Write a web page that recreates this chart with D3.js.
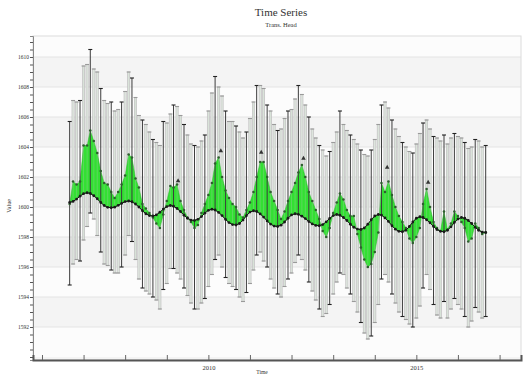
<!DOCTYPE html>
<html>
<head>
<meta charset="utf-8">
<script src="https://cdn.jsdelivr.net/npm/d3@7"></script>
<style>
  body { margin: 0; background: #fff; }
  svg { display: block; }
  text { font-family: "Liberation Serif", "DejaVu Serif", serif; fill: #333; }
</style>
</head>
<body>
<div id="chart"></div>
<script>
var width = 526, height = 376;

// monthly values, Sep 2006 .. Sep 2016
var fitted = [
  1600.3, 1600.37, 1600.53, 1600.72, 1600.89, 1600.95, 1600.9, 1600.75, 1600.55, 1600.3, 1600.1, 1599.98,
  1599.95, 1599.99, 1600.11, 1600.24, 1600.36, 1600.4, 1600.35, 1600.2, 1600.0, 1599.75, 1599.55, 1599.43,
  1599.4, 1599.47, 1599.65, 1599.86, 1600.03, 1600.1, 1600.05, 1599.9, 1599.7, 1599.45, 1599.25, 1599.13,
  1599.1, 1599.18, 1599.36, 1599.59, 1599.78, 1599.85, 1599.8, 1599.64, 1599.43, 1599.17, 1598.96, 1598.83,
  1598.8, 1598.9, 1599.13, 1599.42, 1599.66, 1599.75, 1599.7, 1599.54, 1599.33, 1599.07, 1598.86, 1598.73,
  1598.7, 1598.79, 1599.0, 1599.25, 1599.47, 1599.55, 1599.51, 1599.39, 1599.23, 1599.03, 1598.87, 1598.77,
  1598.75, 1598.83, 1599.01, 1599.24, 1599.43, 1599.5, 1599.45, 1599.3, 1599.1, 1598.85, 1598.65, 1598.53,
  1598.5, 1598.6, 1598.85, 1599.15, 1599.4, 1599.5, 1599.46, 1599.27, 1599.04, 1598.75, 1598.52, 1598.38,
  1598.35, 1598.45, 1598.7, 1599.0, 1599.25, 1599.35, 1599.3, 1599.15, 1598.95, 1598.7, 1598.5, 1598.38,
  1598.35, 1598.45, 1598.68, 1598.97, 1599.2, 1599.3, 1599.25, 1599.1, 1598.9, 1598.65, 1598.45, 1598.33,
  1598.3
];

var observed = [
  1600.2, 1601.7, 1601.5, 1601.7, 1604.1, 1604.1, 1605.1, 1604.4, 1603.6, 1602.4, 1601.6, 1601.5,
  1601.0, 1600.6, 1601.0, 1601.5, 1602.1, 1603.5, 1603.3, 1601.9, 1601.3, 1600.2, 1599.9, 1599.6,
  1599.3, 1598.9, 1598.6, 1599.5, 1600.4, 1601.4, 1601.3, 1601.5, 1600.4, 1599.8, 1599.3, 1599.0,
  1598.6, 1598.8, 1599.6, 1600.2, 1600.8, 1601.6, 1602.9, 1603.3, 1602.0, 1601.1, 1600.6, 1600.2,
  1600.0, 1599.5, 1599.3, 1599.8, 1600.3, 1601.0, 1602.0, 1603.0, 1603.0, 1602.0, 1601.0, 1600.4,
  1599.8, 1599.2, 1599.7, 1600.4, 1601.0, 1601.6, 1602.3, 1602.8, 1602.0, 1601.0, 1600.4, 1599.8,
  1599.2, 1598.4, 1598.0, 1598.6, 1599.6, 1600.3, 1600.9, 1600.5, 1599.8, 1599.4, 1599.4, 1598.2,
  1597.3, 1596.5, 1596.0, 1596.2, 1597.0, 1598.3, 1601.6, 1601.0, 1601.7, 1600.8, 1600.0, 1599.4,
  1599.0, 1598.6, 1597.9, 1597.6, 1598.0, 1598.6, 1600.2, 1601.2, 1600.0, 1599.0, 1598.6, 1598.4,
  1599.7, 1598.5, 1598.9, 1599.7, 1599.4, 1599.0, 1598.6, 1597.7, 1597.9, 1598.9, 1598.6, 1598.2,
  1598.3
];

var high = [
  1605.7, 1607.1, 1607.0, 1607.1, 1609.4, 1609.5, 1610.5, 1609.2, 1609.0, 1607.9, 1607.1, 1606.9,
  1607.0, 1606.4, 1606.5, 1607.0, 1607.7, 1609.0, 1608.6, 1607.3, 1606.1, 1605.8, 1605.5, 1605.0,
  1604.5, 1604.3, 1604.1, 1605.7, 1605.6, 1606.2, 1606.8, 1606.7, 1606.1, 1605.5, 1604.8, 1604.2,
  1604.1, 1604.0, 1604.4, 1604.8, 1606.4, 1607.6, 1608.7, 1608.0, 1607.4, 1606.4, 1605.7, 1605.7,
  1605.4, 1605.0, 1604.6, 1605.0, 1605.9, 1607.0, 1608.1, 1608.1, 1607.9, 1606.8, 1606.4, 1605.5,
  1605.1, 1605.2, 1605.9, 1606.4, 1606.5, 1607.2, 1608.1, 1607.5, 1606.8, 1606.0, 1605.2, 1604.6,
  1604.1, 1603.8, 1603.4, 1603.7, 1604.3, 1605.0, 1606.4, 1605.5, 1605.1, 1604.8, 1604.5, 1604.2,
  1603.8, 1603.5, 1603.4, 1603.8, 1604.5, 1605.5, 1606.8, 1607.0, 1606.6, 1605.8, 1605.2, 1604.7,
  1604.3, 1604.0, 1603.7, 1603.6, 1604.2, 1604.9, 1605.6, 1605.8, 1605.2, 1604.7, 1604.6, 1604.4,
  1604.8, 1604.2, 1604.6, 1604.9, 1604.7, 1604.6, 1604.3, 1603.9, 1604.0, 1604.5, 1604.4, 1604.0,
  1604.1
];

var low = [
  1594.8, 1596.2, 1596.5, 1596.4, 1597.8, 1598.7, 1599.6, 1599.2, 1598.1, 1597.0, 1596.2, 1596.1,
  1595.8, 1595.6, 1595.6, 1596.0, 1596.8, 1598.1, 1597.7, 1596.5, 1595.2, 1594.6, 1594.4, 1594.2,
  1594.0, 1593.8, 1593.2, 1594.5, 1594.9, 1595.9, 1595.9, 1595.6, 1595.2, 1594.6, 1594.1, 1593.6,
  1593.2, 1593.2, 1593.6, 1593.9, 1594.7, 1595.5, 1596.5, 1596.8, 1596.0, 1595.3, 1594.9, 1594.7,
  1594.5, 1594.0, 1593.7, 1594.3, 1594.9, 1595.8, 1596.8, 1597.0, 1596.4, 1596.0, 1595.2, 1594.6,
  1594.2, 1594.0, 1594.7, 1595.2, 1595.6, 1596.3, 1596.8, 1596.5, 1595.8, 1595.0, 1594.4, 1593.8,
  1593.2, 1592.7, 1592.9, 1593.5, 1594.2, 1595.0, 1595.6, 1595.5, 1594.6, 1594.2, 1593.7, 1593.0,
  1592.3, 1591.6, 1591.2, 1591.4, 1592.3, 1593.5, 1595.2, 1595.5, 1595.0, 1594.2, 1593.6, 1593.0,
  1592.7, 1592.5, 1592.2, 1592.0, 1592.6, 1593.4, 1594.6, 1595.5, 1594.5, 1593.5, 1592.8, 1592.6,
  1593.7, 1592.6, 1593.2, 1593.9, 1593.5, 1593.2, 1592.7, 1592.0, 1592.4, 1593.3, 1593.0, 1592.6,
  1592.7
];

// yearly spring peaks marked with triangles
var peakDates = ["2009-04-10", "2010-04-20", "2011-04-10", "2012-04-15", "2014-04-20", "2015-04-15"];
var peakValues = [1601.6, 1603.6, 1603.5, 1603.1, 1602.5, 1601.5];

var yLabelTicks = [1592, 1594, 1596, 1598, 1600, 1602, 1604, 1606, 1608, 1610];

var months = d3.timeMonth.range(new Date(2006, 8, 1), new Date(2016, 9, 1));
var parseDay = d3.timeParse("%Y-%m-%d");

var data = months.map(function (m, i) {
  return { date: m, fit: fitted[i], obs: observed[i], hi: high[i], lo: low[i], i: i };
});

var plotLeft = 33, plotRight = 521, plotTop = 36, plotBottom = 360;

var x = d3.scaleTime()
  .domain([new Date(2005, 9, 14), new Date(2017, 6, 8)])
  .range([plotLeft, plotRight]);

var y = d3.scaleLinear()
  .domain([1589.8, 1611.4])
  .range([plotBottom, plotTop]);

var svg = d3.select("#chart").append("svg")
  .attr("width", width)
  .attr("height", height);

// titles
svg.append("text").attr("x", 281).attr("y", 16).attr("text-anchor", "middle")
  .style("font-size", "11px").text("Time Series");
svg.append("text").attr("x", 281).attr("y", 27).attr("text-anchor", "middle")
  .style("font-size", "6.5px").text("Trans. Head");

// plot background: alternating bands between major ticks
var bands = d3.range(1588, 1612, 2);
svg.append("g").selectAll("rect")
  .data(bands)
  .enter().append("rect")
    .attr("x", plotLeft)
    .attr("width", plotRight - plotLeft)
    .attr("y", function (d) { return Math.max(plotTop, y(d + 2)); })
    .attr("height", function (d) { return Math.max(0, Math.min(plotBottom, y(d)) - Math.max(plotTop, y(d + 2))); })
    .attr("fill", function (d) { return (d / 2) % 2 === 0 ? "#f4f4f4" : "#fcfcfc"; });

svg.append("g").selectAll("line")
  .data(yLabelTicks)
  .enter().append("line")
    .attr("x1", plotLeft).attr("x2", plotRight)
    .attr("y1", function (d) { return y(d); })
    .attr("y2", function (d) { return y(d); })
    .attr("stroke", "#e4e4e4").attr("stroke-width", 1);

svg.append("rect")
  .attr("x", plotLeft).attr("y", plotTop)
  .attr("width", plotRight - plotLeft).attr("height", plotBottom - plotTop)
  .attr("fill", "none").attr("stroke", "#dcdcdc");

// light whisker bodies sit behind the green
var isDark = function (d) { return d.i % 3 === 0; };

svg.append("g").selectAll("rect")
  .data(data.filter(function (d) { return !isDark(d); }))
  .enter().append("rect")
    .attr("x", function (d) { return x(d.date) - 1.1; })
    .attr("width", 2.2)
    .attr("y", function (d) { return y(d.hi); })
    .attr("height", function (d) { return y(d.lo) - y(d.hi); })
    .attr("fill", "#efefef")
    .attr("stroke", "#b4b4b4")
    .attr("stroke-width", 0.6);

// deviation of observed from fitted
var area = d3.area()
  .x(function (d) { return x(d.date); })
  .y0(function (d) { return y(d.fit); })
  .y1(function (d) { return y(d.obs); });

svg.append("path")
  .datum(data)
  .attr("d", area)
  .attr("fill", "#33e033")
  .attr("stroke", "#2fb42f")
  .attr("stroke-width", 0.5);

// thin outlines of the light whiskers and the dark whiskers over the green
svg.append("g").selectAll("line")
  .data(data)
  .enter().append("line")
    .attr("x1", function (d) { return x(d.date); })
    .attr("x2", function (d) { return x(d.date); })
    .attr("y1", function (d) { return y(d.hi); })
    .attr("y2", function (d) { return y(d.lo); })
    .attr("stroke", function (d) { return isDark(d) ? "#3c3c3c" : "#a9c9a9"; })
    .attr("stroke-width", function (d) { return isDark(d) ? 1 : 0.5; })
    .attr("stroke-opacity", function (d) { return isDark(d) ? 1 : 0.7; });

svg.append("g").selectAll("line")
  .data(data.reduce(function (acc, d) { acc.push({ v: d.hi, d: d }, { v: d.lo, d: d }); return acc; }, []))
  .enter().append("line")
    .attr("x1", function (c) { return x(c.d.date) - 2; })
    .attr("x2", function (c) { return x(c.d.date) + 2; })
    .attr("y1", function (c) { return y(c.v); })
    .attr("y2", function (c) { return y(c.v); })
    .attr("stroke", function (c) { return isDark(c.d) ? "#222" : "#9a9a9a"; })
    .attr("stroke-width", 1.1);

svg.append("g").selectAll("circle")
  .data(data)
  .enter().append("circle")
    .attr("cx", function (d) { return x(d.date); })
    .attr("cy", function (d) { return y(d.obs); })
    .attr("r", 1.3)
    .attr("fill", "#2f5f2f");

// fitted seasonal line
var line = d3.line()
  .x(function (d) { return x(d.date); })
  .y(function (d) { return y(d.fit); });

svg.append("path")
  .datum(data)
  .attr("d", line)
  .attr("fill", "none")
  .attr("stroke", "#111")
  .attr("stroke-width", 1);

svg.append("g").selectAll("circle")
  .data(data)
  .enter().append("circle")
    .attr("cx", function (d) { return x(d.date); })
    .attr("cy", function (d) { return y(d.fit); })
    .attr("r", 1.4)
    .attr("fill", "#1a1a1a");

// peak triangles
svg.append("g").selectAll("path")
  .data(peakDates)
  .enter().append("path")
    .attr("d", d3.symbol().type(d3.symbolTriangle).size(9))
    .attr("transform", function (d, i) { return "translate(" + x(parseDay(d)) + "," + (y(peakValues[i]) - 2) + ")"; })
    .attr("fill", "#333");

// y axis
var yAxis = d3.axisLeft(y)
  .tickValues(d3.range(1590, 1611.5, 0.5))
  .tickSize(3)
  .tickFormat(function (d) { return yLabelTicks.indexOf(d) >= 0 ? d : ""; });

var gy = svg.append("g")
  .attr("transform", "translate(" + plotLeft + ",0)")
  .call(yAxis);
gy.select(".domain").attr("stroke", "#888");
gy.selectAll(".tick line").attr("stroke", "#555");
gy.selectAll(".tick text").style("font-size", "5.5px").attr("x", -4);

// x axis
var xAxis = d3.axisBottom(x)
  .ticks(d3.timeYear.every(1))
  .tickSize(-5)
  .tickFormat(function (d) { var yr = d.getFullYear(); return yr % 5 === 0 ? yr : ""; });

var gx = svg.append("g")
  .attr("transform", "translate(0," + plotBottom + ")")
  .call(xAxis);
gx.select(".domain").attr("stroke", "#555").attr("stroke-width", 2);
gx.selectAll(".tick line").attr("stroke", "#666");
gx.selectAll(".tick text").style("font-size", "6.5px").attr("y", 5);

// axis titles
svg.append("text")
  .attr("transform", "translate(11,206) rotate(-90)")
  .attr("text-anchor", "middle")
  .style("font-size", "6px")
  .text("Value");
svg.append("text")
  .attr("x", 262).attr("y", 374)
  .attr("text-anchor", "middle")
  .style("font-size", "5.5px")
  .text("Time");
</script>
</body>
</html>
